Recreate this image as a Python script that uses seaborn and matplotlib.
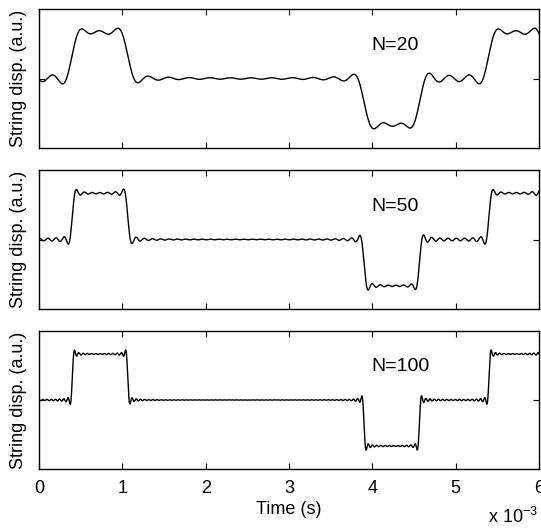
import numpy as np
import pandas as pd
import matplotlib
matplotlib.use("Agg")
import matplotlib.pyplot as plt
import seaborn as sns

# ---- data ----
period_s = 5e-3                               # repetition period of the pulse pattern
pulse_starts = [0.4e-3, 3.9e-3]               # pulse start times (s)
pulse_ends = [1.065e-3, 4.565e-3]             # pulse end times (s)
pulse_levels = [1.0, -1.0]                    # pulse levels (a.u.)
n_terms = [20, 50, 100]                       # number of harmonics per panel
panel_labels = ["N=20", "N=50", "N=100"]
xtick_vals = [0, 1e-3, 2e-3, 3e-3, 4e-3, 5e-3, 6e-3]
xtick_labels = ["0", "1", "2", "3", "4", "5", "6"]
ylab = "String disp. (a.u.)"
xlab = "Time (s)"

t = np.linspace(0, 6e-3, 4000)


def partial_sum(tt, n_max):
    y = np.zeros_like(tt)
    w = 2 * np.pi / period_s
    for n in range(1, n_max + 1):
        a = 0.0
        b = 0.0
        for t1, t2, lev in zip(pulse_starts, pulse_ends, pulse_levels):
            a += lev / (np.pi * n) * (np.sin(n * w * t2) - np.sin(n * w * t1))
            b += -lev / (np.pi * n) * (np.cos(n * w * t2) - np.cos(n * w * t1))
        y += a * np.cos(n * w * tt) + b * np.sin(n * w * tt)
    return y


sns.set_style("white")
plt.rcParams["font.family"] = ["Liberation Sans", "DejaVu Sans"]
plt.rcParams["mathtext.fontset"] = "custom"
plt.rcParams["mathtext.rm"] = "Liberation Sans"
plt.rcParams["text.color"] = "black"
plt.rcParams["axes.labelcolor"] = "black"
plt.rcParams["xtick.color"] = "black"
plt.rcParams["ytick.color"] = "black"

fig = plt.figure(figsize=(5.41, 5.29), dpi=100)
W, H = 541, 529
left_px, right_px = 39, 539
panels_px = [(9, 148), (170, 309), (331, 469)]

fs = 13
for i, (top, bot) in enumerate(panels_px):
    ax = fig.add_axes([left_px / W, 1 - bot / H, (right_px - left_px) / W, (bot - top) / H])
    df = pd.DataFrame({"t": t, "y": partial_sum(t, n_terms[i])})
    sns.lineplot(data=df, x="t", y="y", ax=ax, color="black", linewidth=1.0)
    ax.set_xlim(0, 6e-3)
    ax.set_ylim(-1.5, 1.5)
    ax.set_xticks(xtick_vals)
    ax.set_yticks([0])
    ax.set_yticklabels([])
    if i == 2:
        ax.set_xticklabels(xtick_labels, fontsize=fs)
        ax.set_xlabel(xlab, fontsize=fs, labelpad=3)
    else:
        ax.set_xticklabels([])
        ax.set_xlabel("")
    ax.set_ylabel(ylab, fontsize=fs)
    ax.yaxis.set_label_coords(-0.024, 0.5)
    ax.tick_params(direction="in", length=4, width=0.8, top=True, right=True,
                   bottom=True, left=True, pad=8)
    for s in ax.spines.values():
        s.set_visible(True)
        s.set_color("black")
        s.set_linewidth(1.0)
    ax.text(3.99e-3, 0.72, panel_labels[i], fontsize=14, ha="left", va="center")

fig.text(488 / W, 1 - 517 / H, r"x 10$^{-3}$", fontsize=fs, ha="left", va="center")

fig.savefig("out.png", dpi=100)
